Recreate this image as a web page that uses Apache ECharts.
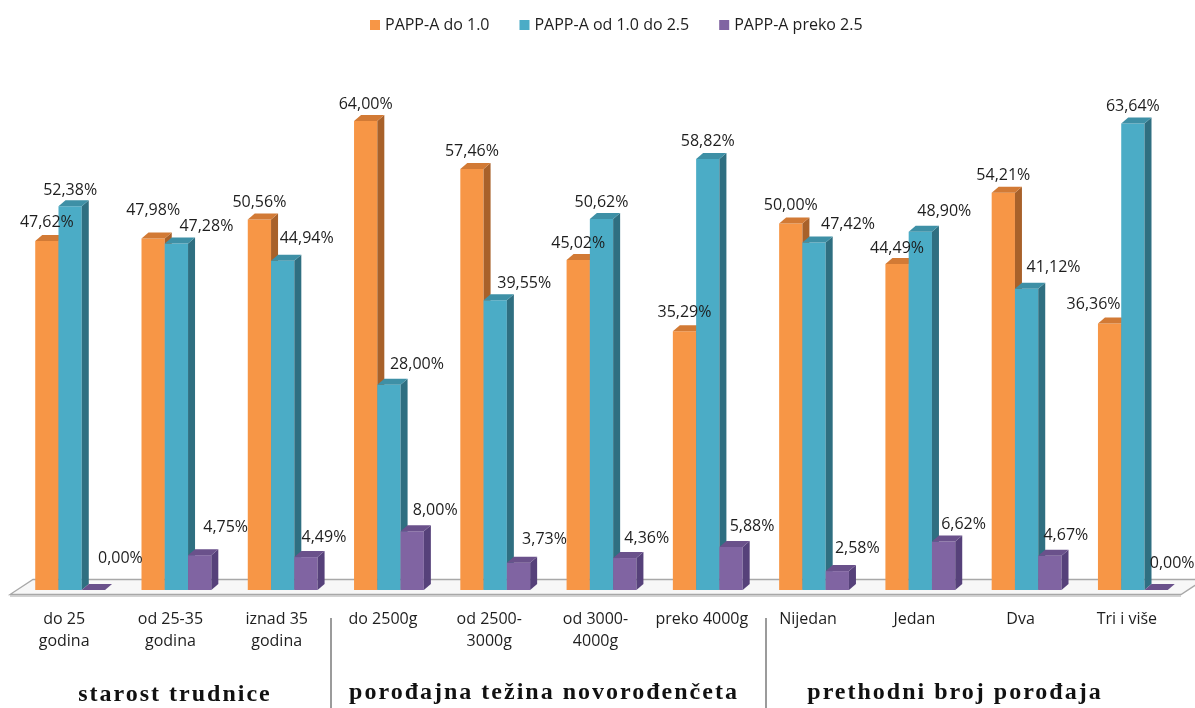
<!DOCTYPE html>
<html>
<head>
<meta charset="utf-8">
<script src="https://cdn.jsdelivr.net/npm/echarts@6/dist/echarts.min.js"></script>
<style>
  html, body { margin: 0; padding: 0; background: #fff; }
  #chart { width: 1195px; height: 708px; }
</style>
</head>
<body>
<div id="chart"></div>
<script>
// Category labels along the floor
const categories = [
  'do 25\ngodina', 'od 25-35\ngodina', 'iznad 35\ngodina',
  'do 2500g', 'od 2500-\n3000g', 'od 3000-\n4000g', 'preko 4000g',
  'Nijedan', 'Jedan', 'Dva', 'Tri i više'
];

// Share of pregnancies per PAPP-A class (%)
const seriesNames = ['PAPP-A do 1.0', 'PAPP-A od 1.0 do 2.5', 'PAPP-A preko 2.5'];
const pappLow  = [47.62, 47.98, 50.56, 64.00, 57.46, 45.02, 35.29, 50.00, 44.49, 54.21, 36.36];
const pappMid  = [52.38, 47.28, 44.94, 28.00, 39.55, 50.62, 58.82, 47.42, 48.90, 41.12, 63.64];
const pappHigh = [0.00, 4.75, 4.49, 8.00, 3.73, 4.36, 5.88, 2.58, 6.62, 4.67, 0.00];

// Group headings under the category labels
const groupTitles = ['starost trudnice', 'porođajna težina novorođenčeta', 'prethodni broj porođaja'];

// Value-label nudges (px) so neighbouring labels do not collide
const labelNudge = [
  { dx: [0, 0, 0, 0, 0, 0, 0, 0, 0, 0, -16],
    dy: [-19, -28, -17, -17, -17, -17, -19, -18, -16, -17, -19] },
  { dx: [0, 30, 24, 28, 29, 0, 0, 34, 24, 27, 0],
    dy: [-16, -17, -22, -20, -17, -17, -17, -18, -20, -21, -17] },
  { dx: [27, 26, 18, 23, 26, 22, 21, 20, 20, 16, 16],
    dy: [-32, -28, -20, -21, -23, -20, -20, -23, -17, -20, -27] }
];

// Face colours: front, right side, top
const palette = [
  { front: '#F79646', side: '#A8612A', top: '#D27A35' },
  { front: '#4BACC6', side: '#2F6F81', top: '#3E90A6' },
  { front: '#8064A2', side: '#56417A', top: '#6A518B' }
];

const DEPTH_X = 7, DEPTH_Y = -6, BAR_RATIO = 0.219;
const TITLE_FONT = 'bold 24px "Liberation Serif"';

// Letter spacing for the serif group headings (they live on their own canvas layer)
(function () {
  const proto = CanvasRenderingContext2D.prototype;
  const fill = proto.fillText;
  proto.fillText = function (text, x, y, maxWidth) {
    if ('letterSpacing' in this) {
      this.letterSpacing = (this.font && this.font.indexOf('Liberation Serif') !== -1) ? '2px' : '0px';
    }
    return maxWidth === undefined ? fill.call(this, text, x, y) : fill.call(this, text, x, y, maxWidth);
  };
})();

const seriesValues = [pappLow, pappMid, pappHigh];

function barGeometry(api, idx, value, k) {
  const base = api.coord([idx, 0]);
  const top = api.coord([idx, value]);
  const band = api.size([1, 0])[0];
  const w = band * BAR_RATIO;
  const x0 = base[0] - 1.5 * w + k * w;
  return { x0: x0, x1: x0 + w, yb: base[1], yt: top[1], w: w };
}

function makeBarSeries(k) {
  const c = palette[k];
  return {
    name: seriesNames[k],
    type: 'custom',
    itemStyle: { color: c.front },
    data: seriesValues[k].map((v, i) => [i, v]),
    encode: { x: 0, y: 1 },
    z: 2,
    renderItem: function (params, api) {
      const g = barGeometry(api, api.value(0), api.value(1), k);
      const children = [];
      if (g.yb - g.yt > 0.5) {
        children.push({
          type: 'rect',
          shape: { x: g.x0, y: g.yt, width: g.w, height: g.yb - g.yt },
          style: { fill: c.front }
        });
        children.push({
          type: 'polygon',
          shape: { points: [[g.x1, g.yt], [g.x1 + DEPTH_X, g.yt + DEPTH_Y], [g.x1 + DEPTH_X, g.yb + DEPTH_Y], [g.x1, g.yb]] },
          style: { fill: c.side }
        });
      }
      children.push({
        type: 'polygon',
        shape: { points: [[g.x0, g.yt], [g.x1, g.yt], [g.x1 + DEPTH_X, g.yt + DEPTH_Y], [g.x0 + DEPTH_X, g.yt + DEPTH_Y]] },
        style: { fill: c.top }
      });
      return { type: 'group', children: children };
    }
  };
}

function makeLabelSeries(k) {
  return {
    type: 'custom',
    silent: true,
    z: 10,
    data: seriesValues[k].map((v, i) => [i, v]),
    encode: { x: 0, y: 1 },
    renderItem: function (params, api) {
      const i = api.value(0), v = api.value(1);
      const g = barGeometry(api, i, v, k);
      return {
        type: 'text',
        style: {
          text: v.toFixed(2).replace('.', ',') + '%',
          x: (g.x0 + g.x1) / 2 + labelNudge[k].dx[i],
          y: g.yt + labelNudge[k].dy[i],
          align: 'center',
          verticalAlign: 'middle',
          font: '16px "Open Sans"',
          fill: '#1e1e1e'
        }
      };
    }
  };
}

// Floor plate under all the bars
const floorSeries = {
  type: 'custom',
  silent: true,
  z: 1,
  data: [[0, 0]],
  encode: { x: 0, y: 1 },
  renderItem: function (params, api) {
    const band = api.size([1, 0])[0];
    const first = api.coord([0, 0]);
    const last = api.coord([categories.length - 1, 0]);
    const left = first[0] - band / 2, right = last[0] + band / 2, y = first[1];
    const front = y + 4.5, back = y - 10.5;
    return {
      type: 'group',
      children: [
        {
          type: 'polygon',
          shape: { points: [[left - 7, front], [right - 5, front], [right + 18, back], [left + 16, back]] },
          style: { fill: '#f7f7f7', stroke: '#a8a8a8', lineWidth: 1.3 }
        },
        {
          type: 'line',
          shape: { x1: left - 7, y1: front + 1.5, x2: right - 5, y2: front + 1.5 },
          style: { stroke: '#c4c4c4', lineWidth: 1.5 }
        }
      ]
    };
  }
};

const chart = echarts.init(document.getElementById('chart'), null, { renderer: 'canvas' });

chart.setOption({
  animation: false,
  backgroundColor: '#ffffff',
  textStyle: { fontFamily: '"Open Sans", sans-serif' },
  legend: {
    data: seriesNames,
    top: 12,
    left: 365,
    icon: 'rect',
    itemWidth: 10,
    itemHeight: 10,
    itemGap: 30,
    textStyle: { fontSize: 16, color: '#1e1e1e', fontFamily: '"Open Sans"' }
  },
  grid: { left: 17, right: 9, top: 77, bottom: 118 },
  xAxis: {
    type: 'category',
    data: categories,
    axisLine: { show: false },
    axisTick: { show: false },
    splitLine: { show: false },
    axisLabel: {
      interval: 0,
      margin: 18,
      fontSize: 16,
      lineHeight: 22,
      color: '#1e1e1e',
      fontFamily: '"Open Sans"',
      padding: [0, 12, 0, 0]
    }
  },
  yAxis: {
    type: 'value',
    min: 0,
    max: 70,
    show: false,
    splitLine: { show: false }
  },
  graphic: [
    { type: 'line', shape: { x1: 331, y1: 618, x2: 331, y2: 708 }, style: { stroke: '#7a7a7a', lineWidth: 1.5 } },
    { type: 'line', shape: { x1: 766, y1: 618, x2: 766, y2: 708 }, style: { stroke: '#7a7a7a', lineWidth: 1.5 } },
    { type: 'text', zlevel: 1, x: 175, y: 695, style: { text: groupTitles[0], align: 'center', verticalAlign: 'middle', font: TITLE_FONT, fill: '#111' } },
    { type: 'text', zlevel: 1, x: 544, y: 693, style: { text: groupTitles[1], align: 'center', verticalAlign: 'middle', font: TITLE_FONT, fill: '#111' } },
    { type: 'text', zlevel: 1, x: 955, y: 693, style: { text: groupTitles[2], align: 'center', verticalAlign: 'middle', font: TITLE_FONT, fill: '#111' } }
  ],
  series: [
    floorSeries,
    makeBarSeries(0),
    makeBarSeries(1),
    makeBarSeries(2),
    makeLabelSeries(0),
    makeLabelSeries(1),
    makeLabelSeries(2)
  ]
});
</script>
</body>
</html>
